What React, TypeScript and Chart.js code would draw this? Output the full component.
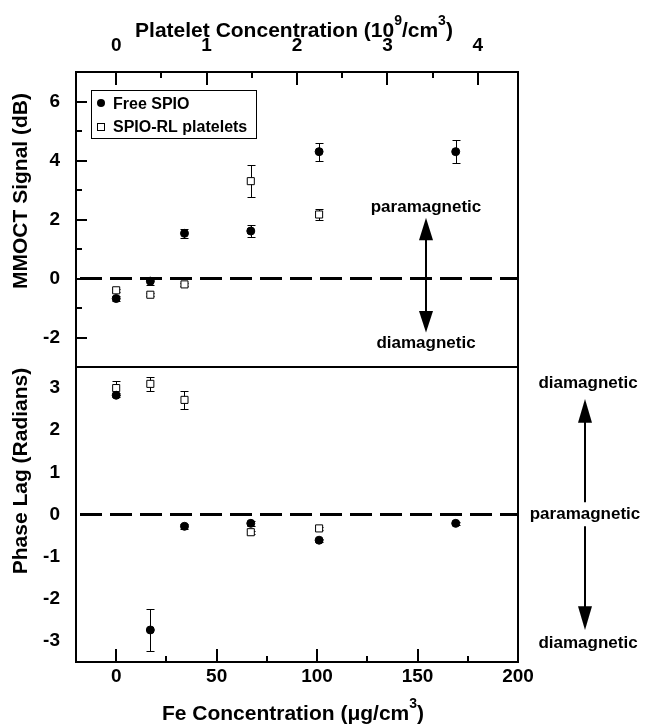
import React, { useEffect, useRef } from 'react';
import { Chart, registerables } from 'chart.js';

Chart.register(...registerables);

const FAMILY = '"Liberation Sans", Arial, Helvetica, sans-serif';

// ---- data (Fe concentration in µg/cm3) ----
const FE_FREE = [0, 17, 34, 67, 101, 169];
const FE_PLATELET = [0, 17, 34, 67, 101];

const MMOCT_FREE = [-0.68, -0.09, 1.53, 1.61, 4.3, 4.3];
const MMOCT_FREE_ERR = [0.08, 0.12, 0.15, 0.2, 0.31, 0.4];
const MMOCT_PLT = [-0.4, -0.55, -0.2, 3.3, 2.17];
const MMOCT_PLT_ERR = [0.06, 0.06, 0.06, 0.54, 0.18];

const PHASE_FREE = [2.83, -2.74, -0.28, -0.21, -0.61, -0.21];
const PHASE_FREE_ERR = [0.05, 0.5, 0.06, 0.06, 0.04, 0.04];
const PHASE_PLT = [3.0, 3.1, 2.72, -0.42, -0.33];
const PHASE_PLT_ERR = [0.17, 0.17, 0.21, 0.04, 0.04];

const SERIES = ['Free SPIO', 'SPIO-RL platelets'];

// ---- axes ----
const FE_MIN = -20;
const FE_MAX = 200;
const FE_TICKS = [0, 50, 100, 150, 200];
const FE_MINOR = [25, 75, 125, 175];
const FE_PER_PLATELET = 45;
const PLATELET_TICKS = [0, 1, 2, 3, 4];
const PLATELET_MINOR = [0.5, 1.5, 2.5, 3.5];
const MMOCT_MIN = -3;
const MMOCT_MAX = 7;
const MMOCT_TICKS = [-2, 0, 2, 4, 6];
const MMOCT_MINOR = [-1, 1, 3, 5];
const PHASE_MIN = -3.5;
const PHASE_MAX = 3.5;
const PHASE_TICKS = [-3, -2, -1, 0, 1, 2, 3];

type Seg = { t: string; sup?: boolean };
const TITLE_FE: Seg[] = [{ t: 'Fe Concentration (\u03bcg/cm' }, { t: '3', sup: true }, { t: ')' }];
const TITLE_PLATELET: Seg[] = [
  { t: 'Platelet Concentration (10' },
  { t: '9', sup: true },
  { t: '/cm' },
  { t: '3', sup: true },
  { t: ')' },
];
const TITLE_MMOCT: Seg[] = [{ t: 'MMOCT Signal (dB)' }];
const TITLE_PHASE: Seg[] = [{ t: 'Phase Lag (Radians)' }];
const LBL_PARA = 'paramagnetic';
const LBL_DIA = 'diamagnetic';

const pts = (xs: number[], ys: number[]) => xs.map((x, i) => ({ x, y: ys[i] }));

const ERROR_SETS = [
  { xs: FE_FREE, ys: MMOCT_FREE, errs: MMOCT_FREE_ERR, axis: 'yTop' },
  { xs: FE_PLATELET, ys: MMOCT_PLT, errs: MMOCT_PLT_ERR, axis: 'yTop' },
  { xs: FE_FREE, ys: PHASE_FREE, errs: PHASE_FREE_ERR, axis: 'yBot' },
  { xs: FE_PLATELET, ys: PHASE_PLT, errs: PHASE_PLT_ERR, axis: 'yBot' },
];

function drawRich(ctx: CanvasRenderingContext2D, segs: Seg[], x: number, y: number, size: number, rotate: boolean) {
  const mainF = `bold ${size}px ${FAMILY}`;
  const supF = `bold ${Math.round(size * 0.68)}px ${FAMILY}`;
  let total = 0;
  const widths = segs.map((s) => {
    ctx.font = s.sup ? supF : mainF;
    const w = ctx.measureText(s.t).width;
    total += w;
    return w;
  });
  ctx.save();
  ctx.translate(x, y);
  if (rotate) ctx.rotate(-Math.PI / 2);
  ctx.fillStyle = '#000';
  ctx.textAlign = 'left';
  ctx.textBaseline = 'alphabetic';
  let cx = -total / 2;
  segs.forEach((s, i) => {
    ctx.font = s.sup ? supF : mainF;
    ctx.fillText(s.t, cx, s.sup ? -size * 0.55 : 0);
    cx += widths[i];
  });
  ctx.restore();
}

function arrowHead(ctx: CanvasRenderingContext2D, x: number, base: number, tip: number, half: number) {
  ctx.beginPath();
  ctx.moveTo(x, tip);
  ctx.lineTo(x - half, base);
  ctx.lineTo(x + half, base);
  ctx.closePath();
  ctx.fill();
}

function vline(ctx: CanvasRenderingContext2D, x: number, y1: number, y2: number) {
  ctx.beginPath();
  ctx.moveTo(x, y1);
  ctx.lineTo(x, y2);
  ctx.stroke();
}
function hline(ctx: CanvasRenderingContext2D, x1: number, x2: number, y: number) {
  ctx.beginPath();
  ctx.moveTo(x1, y);
  ctx.lineTo(x2, y);
  ctx.stroke();
}

const decor = {
  id: 'decor',
  beforeDatasetsDraw(chart: any) {
    const ctx: CanvasRenderingContext2D = chart.ctx;
    const xs = chart.scales.x;
    ctx.save();
    ctx.strokeStyle = '#000';
    ctx.lineWidth = 1;
    for (const s of ERROR_SETS) {
      const ys = chart.scales[s.axis];
      s.xs.forEach((xv, i) => {
        const px = Math.round(xs.getPixelForValue(xv)) + 0.5;
        const t = Math.round(ys.getPixelForValue(s.ys[i] + s.errs[i])) + 0.5;
        const b = Math.round(ys.getPixelForValue(s.ys[i] - s.errs[i])) + 0.5;
        vline(ctx, px, t, b);
        hline(ctx, px - 4, px + 4, t);
        hline(ctx, px - 4, px + 4, b);
      });
    }
    ctx.restore();
  },
  afterDraw(chart: any) {
    const ctx: CanvasRenderingContext2D = chart.ctx;
    const { left, right, top, bottom } = chart.chartArea;
    const xs = chart.scales.x;
    const x2 = chart.scales.xTop;
    const yT = chart.scales.yTop;
    const yB = chart.scales.yBot;
    ctx.save();
    ctx.strokeStyle = '#000';
    ctx.fillStyle = '#000';
    ctx.lineWidth = 2;
    // frame + divider
    ctx.strokeRect(left, top, right - left, bottom - top);
    hline(ctx, left, right, Math.round(yT.bottom));
    // ticks (inward)
    FE_TICKS.forEach((v) => vline(ctx, Math.round(xs.getPixelForValue(v)), bottom, bottom - 13));
    FE_MINOR.forEach((v) => vline(ctx, Math.round(xs.getPixelForValue(v)), bottom, bottom - 6));
    PLATELET_TICKS.forEach((v) => vline(ctx, Math.round(x2.getPixelForValue(v)), top, top + 13));
    PLATELET_MINOR.forEach((v) => vline(ctx, Math.round(x2.getPixelForValue(v)), top, top + 6));
    MMOCT_TICKS.forEach((v) => hline(ctx, left, left + 11, Math.round(yT.getPixelForValue(v))));
    MMOCT_MINOR.forEach((v) => hline(ctx, left, left + 6, Math.round(yT.getPixelForValue(v))));

    // legend
    const lx = left + 15;
    const ly = top + 18;
    ctx.lineWidth = 1;
    ctx.fillStyle = '#fff';
    ctx.fillRect(lx, ly, 165, 48);
    ctx.strokeRect(lx + 0.5, ly + 0.5, 165, 48);
    ctx.fillStyle = '#000';
    ctx.beginPath();
    ctx.arc(lx + 10, ly + 13, 4, 0, Math.PI * 2);
    ctx.fill();
    ctx.fillStyle = '#fff';
    ctx.fillRect(lx + 6.5, ly + 33.5, 7, 7);
    ctx.strokeRect(lx + 6.5, ly + 33.5, 7, 7);
    ctx.fillStyle = '#000';
    ctx.font = `bold 16px ${FAMILY}`;
    ctx.textAlign = 'left';
    ctx.textBaseline = 'alphabetic';
    ctx.fillText(SERIES[0], lx + 22, ly + 19);
    ctx.fillText(SERIES[1], lx + 22, ly + 42);

    // axis titles
    drawRich(ctx, TITLE_PLATELET, 294, 37, 21, false);
    drawRich(ctx, TITLE_FE, 293, 720, 21, false);
    drawRich(ctx, TITLE_MMOCT, 27, 191, 21, true);
    drawRich(ctx, TITLE_PHASE, 27, 471, 21, true);

    // annotation inside top panel
    ctx.lineWidth = 2;
    ctx.font = `bold 17px ${FAMILY}`;
    ctx.textAlign = 'center';
    const ax = Math.round(xs.getPixelForValue(154));
    ctx.fillText(LBL_PARA, ax, yT.getPixelForValue(2.27));
    ctx.fillText(LBL_DIA, ax, yT.getPixelForValue(-2.36));
    vline(ctx, ax, yT.getPixelForValue(1.35), yT.getPixelForValue(-1.15));
    arrowHead(ctx, ax, yT.getPixelForValue(1.3), yT.getPixelForValue(2.06), 7);
    arrowHead(ctx, ax, yT.getPixelForValue(-1.1), yT.getPixelForValue(-1.83), 7);

    // annotation right of bottom panel
    const rx = right + 67;
    ctx.fillText(LBL_DIA, rx + 3, yB.getPixelForValue(3.0));
    ctx.fillText(LBL_PARA, rx, yB.getPixelForValue(-0.1));
    ctx.fillText(LBL_DIA, rx + 3, yB.getPixelForValue(-3.17));
    vline(ctx, rx, yB.getPixelForValue(0.29), yB.getPixelForValue(2.25));
    arrowHead(ctx, rx, yB.getPixelForValue(2.18), yB.getPixelForValue(2.74), 7);
    vline(ctx, rx, yB.getPixelForValue(-0.28), yB.getPixelForValue(-2.25));
    arrowHead(ctx, rx, yB.getPixelForValue(-2.18), yB.getPixelForValue(-2.74), 7);
    ctx.restore();
  },
};

const tickFont = { family: FAMILY, size: 19, weight: 'bold' as const };

function fixedTicks(values: number[]) {
  return (s: any) => {
    s.ticks = values.map((v) => ({ value: v }));
  };
}

export default function App() {
  const ref = useRef<HTMLCanvasElement>(null);
  useEffect(() => {
    const canvas = ref.current!;
    const freeStyle = {
      pointStyle: 'circle',
      pointRadius: 4,
      pointBackgroundColor: '#000',
      pointBorderColor: '#000',
      pointBorderWidth: 1,
    };
    const pltStyle = {
      pointStyle: 'rect',
      pointRadius: 5,
      pointBackgroundColor: '#fff',
      pointBorderColor: '#000',
      pointBorderWidth: 1,
    };
    const zeroStyle = {
      showLine: true,
      pointRadius: 0,
      borderColor: '#000',
      borderWidth: 3,
      borderDash: [22, 8],
      borderDashOffset: -4,
    };
    const chart = new Chart(canvas, {
      type: 'scatter',
      data: {
        datasets: [
          { label: SERIES[0], data: pts(FE_FREE, MMOCT_FREE), xAxisID: 'x', yAxisID: 'yTop', ...freeStyle } as any,
          { label: SERIES[1], data: pts(FE_PLATELET, MMOCT_PLT), xAxisID: 'x', yAxisID: 'yTop', ...pltStyle } as any,
          { label: SERIES[0], data: pts(FE_FREE, PHASE_FREE), xAxisID: 'x', yAxisID: 'yBot', ...freeStyle } as any,
          { label: SERIES[1], data: pts(FE_PLATELET, PHASE_PLT), xAxisID: 'x', yAxisID: 'yBot', ...pltStyle } as any,
          { label: 'zero', data: [{ x: FE_MIN, y: 0 }, { x: FE_MAX, y: 0 }], xAxisID: 'x', yAxisID: 'yTop', ...zeroStyle } as any,
          { label: 'zero', data: [{ x: FE_MIN, y: 0 }, { x: FE_MAX, y: 0 }], xAxisID: 'x', yAxisID: 'yBot', ...zeroStyle } as any,
        ],
      },
      options: {
        animation: false,
        responsive: false,
        events: [],
        layout: { padding: { left: 0, right: 128, top: 0, bottom: 0 } },
        plugins: { legend: { display: false }, tooltip: { enabled: false } },
        scales: {
          x: {
            type: 'linear',
            position: 'bottom',
            min: FE_MIN,
            max: FE_MAX,
            afterBuildTicks: fixedTicks(FE_TICKS),
            afterFit: (s: any) => { s.height = 62; },
            grid: { display: false, drawTicks: false },
            border: { display: false },
            ticks: { font: tickFont, color: '#000', padding: 3, autoSkip: false, maxRotation: 0, callback: (v: any) => String(v) },
          },
          xTop: {
            type: 'linear',
            axis: 'x',
            position: 'top',
            min: FE_MIN / FE_PER_PLATELET,
            max: FE_MAX / FE_PER_PLATELET,
            afterBuildTicks: fixedTicks(PLATELET_TICKS),
            afterFit: (s: any) => { s.height = 72; },
            grid: { display: false, drawTicks: false },
            border: { display: false },
            ticks: { font: tickFont, color: '#000', padding: 15, autoSkip: false, maxRotation: 0, callback: (v: any) => String(v) },
          },
          // stacked panels: the scale listed first is placed lowest
          yBot: {
            type: 'linear',
            axis: 'y',
            position: 'left',
            stack: 'panels',
            stackWeight: 1,
            min: PHASE_MIN,
            max: PHASE_MAX,
            afterBuildTicks: fixedTicks(PHASE_TICKS),
            afterFit: (s: any) => { s.width = 76; },
            grid: { display: false, drawTicks: false },
            border: { display: false },
            ticks: { font: tickFont, color: '#000', padding: 16, autoSkip: false, callback: (v: any) => String(v) },
          },
          yTop: {
            type: 'linear',
            axis: 'y',
            position: 'left',
            stack: 'panels',
            stackWeight: 1,
            min: MMOCT_MIN,
            max: MMOCT_MAX,
            afterBuildTicks: fixedTicks(MMOCT_TICKS),
            afterFit: (s: any) => { s.width = 76; },
            grid: { display: false, drawTicks: false },
            border: { display: false },
            ticks: { font: tickFont, color: '#000', padding: 16, autoSkip: false, callback: (v: any) => String(v) },
          },
        } as any,
      },
      plugins: [decor],
    });
    return () => chart.destroy();
  }, []);
  return (
    <div style={{ position: 'fixed', left: 0, top: 0, width: 646, height: 724, background: '#fff' }}>
      <canvas ref={ref} width={646} height={724} style={{ display: 'block' }} />
    </div>
  );
}
